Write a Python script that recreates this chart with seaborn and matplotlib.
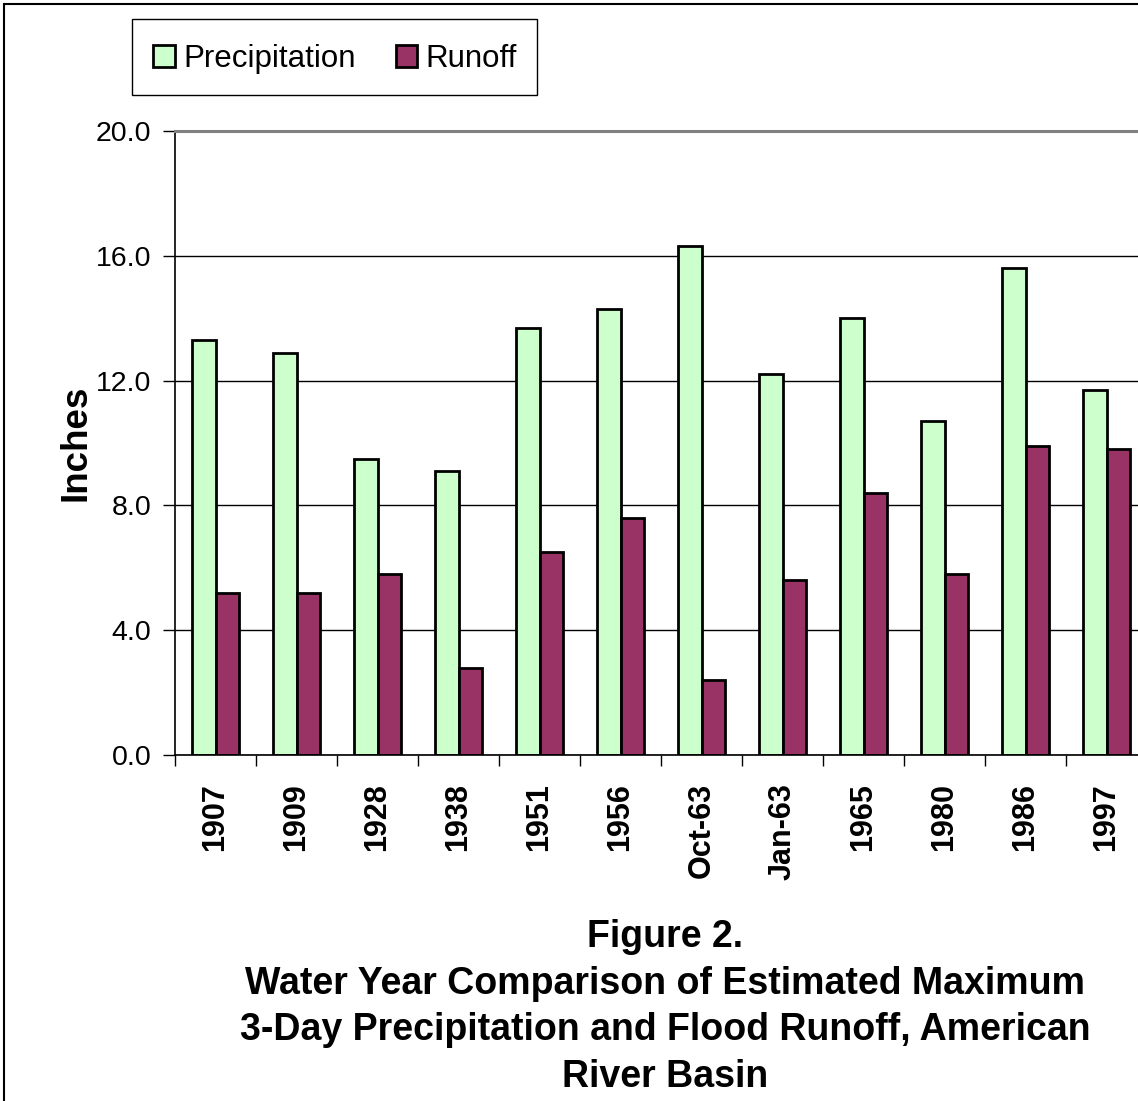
import numpy as np
import pandas as pd
import seaborn as sns
import matplotlib
matplotlib.use("Agg")
import matplotlib.pyplot as plt
from matplotlib.patches import Rectangle, Patch
from matplotlib.ticker import FormatStrFormatter, FixedLocator

# Storm events and their maximum 3-day depths (inches)
events = ["1907", "1909", "1928", "1938", "1951", "1956",
          "Oct-63", "Jan-63", "1965", "1980", "1986", "1997"]
precipitation = [13.3, 12.9, 9.5, 9.1, 13.7, 14.3, 16.3, 12.2, 14.0, 10.7, 15.6, 11.7]
runoff = [5.2, 5.2, 5.8, 2.8, 6.5, 7.6, 2.4, 5.6, 8.4, 5.8, 9.9, 9.8]
series_names = ["Precipitation", "Runoff"]
series_colors = ["#CCFFCC", "#993366"]
y_ticks = [0, 4, 8, 12, 16, 20]

sns.set_theme(style="white")
plt.rcParams["font.family"] = ["Liberation Sans", "DejaVu Sans"]
plt.rcParams["text.color"] = "black"
plt.rcParams["axes.labelcolor"] = "black"
plt.rcParams["xtick.color"] = "black"
plt.rcParams["ytick.color"] = "black"

df = pd.DataFrame({
    "Event": events * 2,
    "Inches": precipitation + runoff,
    "Series": [series_names[0]] * len(events) + [series_names[1]] * len(events),
})
palette = dict(zip(series_names, series_colors))

W, H = 1138, 1101
fig = plt.figure(figsize=(W / 100, H / 100), dpi=100)
fig.patch.set_facecolor("white")

ax = fig.add_axes([175 / W, 346 / H, 1 - 175 / W, 624 / H])
sns.barplot(data=df, x="Event", y="Inches", hue="Series", order=events,
            hue_order=series_names, palette=palette, saturation=1,
            width=0.57, edgecolor="black", linewidth=2, legend=False, ax=ax)

# Axis ranges and ticks (plot area runs past the right edge)
ax.set_ylim(0, 20)
ax.set_xlim(-0.5, -0.5 + 963 / 81)
ax.yaxis.set_major_locator(FixedLocator(y_ticks))
ax.yaxis.set_major_formatter(FormatStrFormatter("%.1f"))
ax.xaxis.set_minor_locator(FixedLocator(np.arange(-0.5, len(events), 1.0)))

ax.yaxis.grid(True, color="black", linewidth=1)
ax.xaxis.grid(False)
ax.set_axisbelow(True)

ax.tick_params(axis="y", which="major", length=9, width=1, direction="out",
               color="black", labelcolor="black", labelsize=20.5, pad=8,
               left=True)
ax.tick_params(axis="x", which="major", length=0, pad=20, labelsize=22,
               labelcolor="black", labelrotation=90)
ax.tick_params(axis="x", which="minor", length=8, width=1, direction="out",
               color="black", bottom=True)
for lbl in ax.get_xticklabels():
    lbl.set_fontweight("bold")
    lbl.set_va("top")

for side in ["left", "bottom"]:
    ax.spines[side].set_color("black")
    ax.spines[side].set_linewidth(1.2)
ax.spines["top"].set_color("#808080")
ax.spines["top"].set_linewidth(2.2)
ax.spines["right"].set_visible(False)

ax.set_xlabel("")
ax.set_ylabel("Inches", fontsize=26.5, fontweight="bold", color="black")
ax.yaxis.set_label_coords((93 - 175) / 963, 0.5)

# Legend with its own frame
handles = [Patch(facecolor=c, edgecolor="black", linewidth=2) for c in series_colors]
fig.legend(handles, series_names, loc="upper left",
           bbox_to_anchor=(153 / W, 1 - 44 / H), ncol=2, frameon=False,
           fontsize=22.5, handlelength=0.7, handleheight=0.7,
           handletextpad=0.26, columnspacing=1.28, borderpad=0,
           borderaxespad=0, labelcolor="black")
fig.add_artist(Rectangle((132 / W, 1 - 95 / H), 405 / W, 76 / H,
                         transform=fig.transFigure, fill=False,
                         edgecolor="black", linewidth=1))

# Outer border of the figure
fig.add_artist(Rectangle((4 / W, -0.05), 1.2, 1.05 - 4 / H,
                         transform=fig.transFigure, fill=False,
                         edgecolor="black", linewidth=1.5))

fig.text(665 / W, 1 - 919 / H,
         "Figure 2.\nWater Year Comparison of Estimated Maximum\n"
         "3-Day Precipitation and Flood Runoff, American\nRiver Basin",
         ha="center", va="top", fontsize=27, fontweight="bold",
         linespacing=1.38, color="black")

fig.savefig("out.png", dpi=100)
